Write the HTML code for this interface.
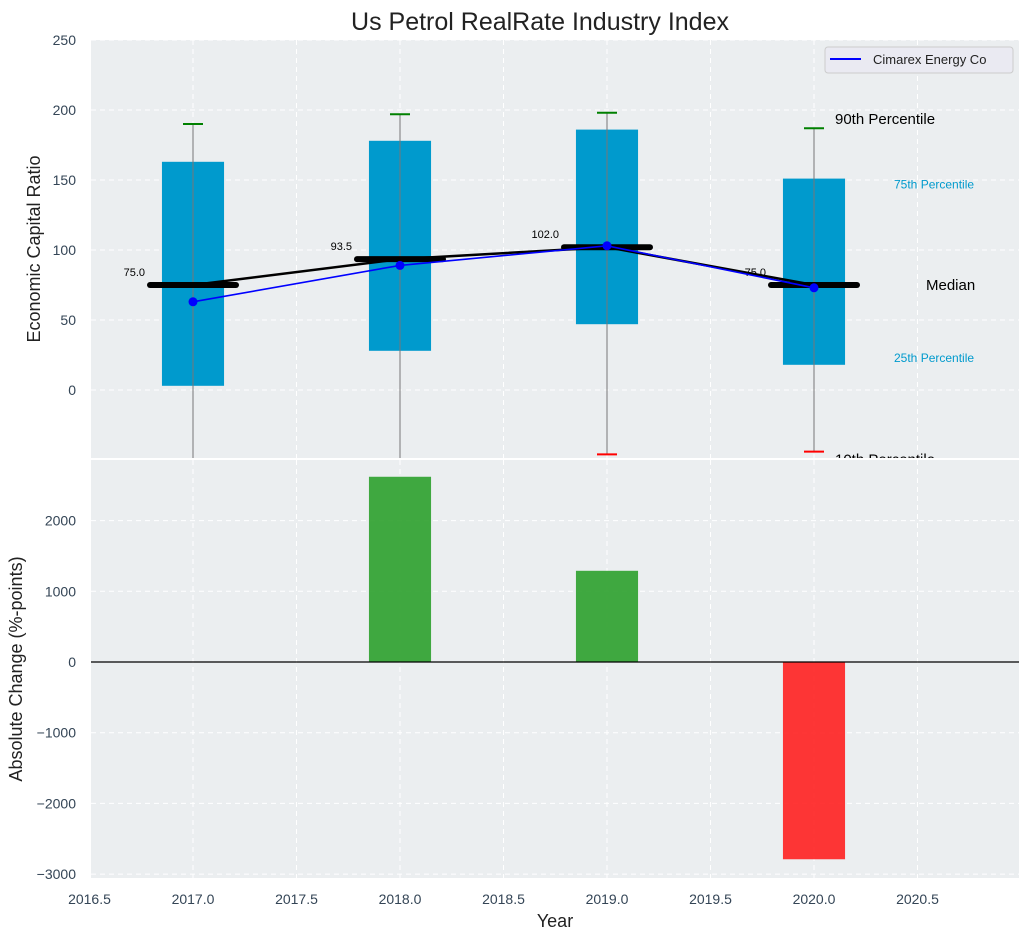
<!DOCTYPE html>
<html><head><meta charset="utf-8"><style>
body{margin:0;background:#fff;font-family:"Liberation Sans",sans-serif}
svg text{font-family:"Liberation Sans",sans-serif}
</style></head><body>
<svg id="c" width="1029" height="940" xmlns="http://www.w3.org/2000/svg">
<defs><clipPath id="topclip"><rect x="91" y="40" width="928" height="418"/></clipPath>
<clipPath id="botclip"><rect x="91" y="460" width="928" height="418"/></clipPath></defs>
<text x="540" y="30" font-size="25" text-anchor="middle" fill="#222">Us Petrol RealRate Industry Index</text>
<g id="topg"></g><g id="botg"></g>
</svg>
<script>
const years=[2017,2018,2019,2020];
const p90=[190,197,198,187];
const p75=[163,178,186,151];
const med=[75,93.5,102,75];
const p25=[3,28,47,18];
const p10=[-60,-60,-46,-44];
const company=[63,89,103,73];
const change=[0,2620,1290,-2790];
const xTicks=[2016.5,2017,2017.5,2018,2018.5,2019,2019.5,2020,2020.5];
const yTopTicks=[0,50,100,150,200,250];
const yBotTicks=[-3000,-2000,-1000,0,1000,2000];

const NS="http://www.w3.org/2000/svg";
const X=v=>193+(v-2017)*207;
const YT=v=>390-v*1.4;
const YB=v=>662-v*0.0707;
const tickCol='#344556';
function mk(parent,tag,attrs,name,text){const e=document.createElementNS(NS,tag);for(const k in attrs)e.setAttribute(k,attrs[k]);


if(text!==undefined)e.textContent=text;parent.appendChild(e);return e;}
const fmt=v=>(v<0?'\u2212':'')+Math.abs(v);
const svgEl=document.getElementById('c');
const topG=document.getElementById('topg'),botG=document.getElementById('botg');
const bg='#ebeef0';
mk(topG,'rect',{x:91,y:40,width:928,height:418,fill:bg},'top-plot-area');
mk(botG,'rect',{x:91,y:460,width:928,height:418,fill:bg},'bottom-plot-area');
const gt=mk(topG,'g',{'clip-path':'url(#topclip)'},'top-plot-content');
const gb=mk(botG,'g',{'clip-path':'url(#botclip)'},'bottom-plot-content');
xTicks.forEach(t=>{
 mk(gt,'line',{x1:X(t),x2:X(t),y1:40,y2:458,stroke:'#fff','stroke-dasharray':'5,4','stroke-width':1},'top-x-gridline');
 mk(gb,'line',{x1:X(t),x2:X(t),y1:460,y2:878,stroke:'#fff','stroke-dasharray':'5,4','stroke-width':1},'bottom-x-gridline');
 mk(svgEl,'text',{x:X(t),y:904,'font-size':14,'text-anchor':'middle',fill:tickCol},'x-tick-label',t.toFixed(1));
});
yTopTicks.forEach(t=>{
 mk(gt,'line',{x1:91,x2:1019,y1:YT(t),y2:YT(t),stroke:'#fff','stroke-dasharray':'5,4'},'top-y-gridline');
 mk(svgEl,'text',{x:76,y:YT(t)+5,'font-size':14,'text-anchor':'end',fill:tickCol},'top-y-tick-label',fmt(t));
});
yBotTicks.forEach(t=>{
 mk(gb,'line',{x1:91,x2:1019,y1:YB(t),y2:YB(t),stroke:'#fff','stroke-dasharray':'5,4'},'bottom-y-gridline');
 mk(svgEl,'text',{x:76,y:YB(t)+5,'font-size':14,'text-anchor':'end',fill:tickCol},'bottom-y-tick-label',fmt(t));
});
const hw=0.15*207;
years.forEach((y,i)=>{
 const x=X(y);
 mk(gt,'rect',{x:x-hw,y:YT(p75[i]),width:2*hw,height:YT(p25[i])-YT(p75[i]),fill:'#009acd'},'iqr-box-'+y);
 mk(gt,'line',{x1:x,x2:x,y1:YT(p90[i]),y2:YT(p10[i]),stroke:'#777','stroke-width':1},'whisker-'+y);
 mk(gt,'line',{x1:x-10,x2:x+10,y1:YT(p90[i]),y2:YT(p90[i]),stroke:'green','stroke-width':2},'p90-cap-'+y);
 mk(gt,'line',{x1:x-10,x2:x+10,y1:YT(p10[i]),y2:YT(p10[i]),stroke:'red','stroke-width':2},'p10-cap-'+y);
 mk(gt,'line',{x1:x-43,x2:x+43,y1:YT(med[i]),y2:YT(med[i]),stroke:'#000','stroke-width':6,'stroke-linecap':'round'},'median-bar-'+y);
 mk(gt,'text',{x:x-48,y:YT(med[i])-9,'font-size':11,'text-anchor':'end',fill:'#000'},'median-value-label',med[i].toFixed(1));
});
mk(gt,'polyline',{points:years.map((y,i)=>X(y)+','+YT(med[i])).join(' '),fill:'none',stroke:'#000','stroke-width':2.5},'median-line');
mk(gt,'polyline',{points:years.map((y,i)=>X(y)+','+YT(company[i])).join(' '),fill:'none',stroke:'#0000ff','stroke-width':1.6},'company-line');
years.forEach((y,i)=>mk(gt,'circle',{cx:X(y),cy:YT(company[i]),r:4.5,fill:'#0000ff'},'company-point-'+y));
const lx=X(2020)+21;
mk(gt,'text',{x:lx,y:YT(p90[3])-4,'font-size':15,fill:'#000'},'p90-annotation','90th Percentile');
mk(gt,'text',{x:lx+59,y:YT(p75[3])+10,'font-size':12,fill:'#009acd'},'p75-annotation','75th Percentile');
mk(gt,'text',{x:lx+91,y:YT(med[3])+5,'font-size':15,fill:'#000'},'median-annotation','Median');
mk(gt,'text',{x:lx+59,y:YT(p25[3])-3,'font-size':12,fill:'#009acd'},'p25-annotation','25th Percentile');
mk(gt,'text',{x:lx,y:YT(p10[3])+13,'font-size':15,fill:'#000'},'p10-annotation','10th Percentile');
years.forEach((y,i)=>{if(change[i]===0)return;
 const y0=YB(Math.max(change[i],0)),y1=YB(Math.min(change[i],0));
 mk(gb,'rect',{x:X(y)-hw,y:y0,width:2*hw,height:y1-y0,fill:change[i]>0?'#2ca02c':'#ff2020','fill-opacity':0.9},'change-bar-'+y);});
mk(gb,'line',{x1:91,x2:1019,y1:YB(0),y2:YB(0),stroke:'#000','stroke-width':1.2},'zero-line');
const lg=mk(svgEl,'g',{},'legend');
mk(lg,'rect',{x:825,y:47,width:188,height:26,rx:3,fill:'#eaeaf2',stroke:'#ccc'},'legend-box');
mk(lg,'line',{x1:830,x2:861,y1:59,y2:59,stroke:'#0000ff','stroke-width':2},'legend-swatch');
mk(lg,'text',{x:873,y:64,'font-size':13,fill:'#222'},'legend-entry','Cimarex Energy Co');
mk(svgEl,'text',{x:40,y:249,'font-size':18,'text-anchor':'middle',fill:'#222',transform:'rotate(-90 40 249)'},'top-y-axis-title','Economic Capital Ratio');
mk(svgEl,'text',{x:22,y:669,'font-size':18,'text-anchor':'middle',fill:'#222',transform:'rotate(-90 22 669)'},'bottom-y-axis-title','Absolute Change (%-points)');
mk(svgEl,'text',{x:555,y:927,'font-size':18,'text-anchor':'middle',fill:'#222'},'x-axis-title','Year');
</script>
</body></html>
